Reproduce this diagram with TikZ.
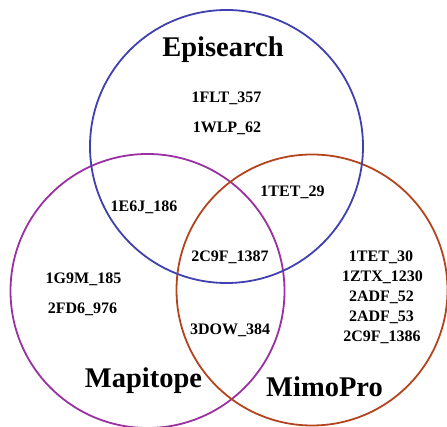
\documentclass[tikz,border=0pt]{standalone}
\usepackage{fontspec}
\setmainfont{Liberation Serif}
\definecolor{epiblue}{HTML}{4040B0}
\definecolor{mappurple}{HTML}{9A30A2}
\definecolor{mimored}{HTML}{B4441E}
\begin{document}
\begin{tikzpicture}[x=1pt,y=-1pt,
  ring/.style={line width=1.8pt},
  lbl/.style={anchor=base,inner sep=0pt,font=\fontsize{16}{18}\selectfont\bfseries},
  ttl/.style={anchor=base,inner sep=0pt,font=\fontsize{28.5}{32}\selectfont\bfseries}]
\useasboundingbox (0,0) rectangle (447,427);
\node[ring,draw=mappurple,circle,minimum size=274pt,inner sep=0pt] (mapc) at (147.5,291) {};
\node[ring,draw=mimored,circle,minimum size=271pt,inner sep=0pt] (mimoc) at (312,290) {};
\node[ring,draw=epiblue,circle,minimum size=273pt,inner sep=0pt] (epic) at (226.5,146.5) {};
\node[ttl] (tepi) at (223,57) {Episearch};
\node[ttl] (tmap) at (143.5,388) {Mapitope};
\node[ttl] (tmimo) at (324.5,396) {MimoPro};
\node[lbl] (a1) at (226.5,103) {1FLT\_357};
\node[lbl] (a2) at (227,133) {1WLP\_62};
\node[lbl] (b1) at (292.5,197) {1TET\_29};
\node[lbl] (c1) at (144,212) {1E6J\_186};
\node[lbl] (d1) at (230,262) {2C9F\_1387};
\node[lbl] (e1) at (83.5,284) {1G9M\_185};
\node[lbl] (e2) at (82.5,314) {2FD6\_976};
\node[lbl] (f1) at (230,335) {3DOW\_384};
\node[lbl] (g1) at (381,262) {1TET\_30};
\node[lbl] (g2) at (382.5,282) {1ZTX\_1230};
\node[lbl] (g3) at (381.5,302) {2ADF\_52};
\node[lbl] (g4) at (381.5,322) {2ADF\_53};
\node[lbl] (g5) at (382,342) {2C9F\_1386};
\end{tikzpicture}
\end{document}
